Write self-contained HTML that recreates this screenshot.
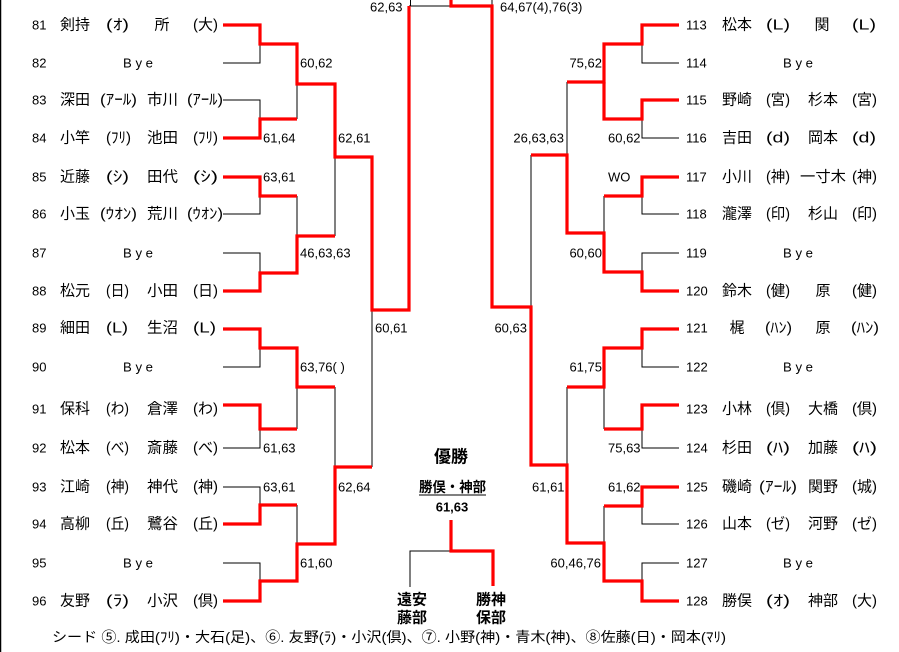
<!DOCTYPE html>
<html><head><meta charset="utf-8">
<style>
html,body{margin:0;padding:0;background:#fff;}
body{width:899px;height:652px;overflow:hidden;position:relative;}
svg{position:absolute;left:0;top:0;}
.n{font-family:"Liberation Sans",sans-serif;font-size:13px;fill:#000;}
.j{font-family:"Liberation Sans","Noto Sans CJK JP",sans-serif;font-size:15px;fill:#000;}
.b{font-family:"Liberation Sans","Noto Sans CJK JP",sans-serif;font-weight:bold;fill:#000;}
</style></head><body>
<svg width="899" height="652" viewBox="0 0 899 652" xmlns="http://www.w3.org/2000/svg">
<rect x="0" y="0" width="899" height="652" fill="#fff"/>
<line x1="0.5" y1="0" x2="0.5" y2="652" stroke="#000" stroke-width="1.5"/>

<!-- black lines -->
<g stroke="#000" stroke-width="1" fill="none">
<!-- left -->
<polyline points="223,63 260,63 260,44"/>
<polyline points="223,100 260,100 260,119"/>
<line x1="297" y1="84" x2="297" y2="119"/>
<polyline points="223,214 260,214 260,196"/>
<line x1="297" y1="196" x2="297" y2="236"/>
<polyline points="223,253 260,253 260,273"/>
<line x1="335" y1="157" x2="335" y2="236"/>
<polyline points="223,367 260,367 260,348"/>
<line x1="297" y1="387" x2="297" y2="429"/>
<polyline points="223,448 260,448 260,429"/>
<line x1="335" y1="387" x2="335" y2="467"/>
<polyline points="223,487 260,487 260,505"/>
<line x1="297" y1="505" x2="297" y2="544"/>
<polyline points="223,563 260,563 260,581"/>
<line x1="372" y1="310" x2="372" y2="467"/>
<line x1="409" y1="6" x2="451" y2="6"/>
<line x1="410.5" y1="0" x2="410.5" y2="6"/>
<line x1="492" y1="0" x2="492" y2="6"/>
<!-- right -->
<polyline points="679,63 642,63 642,44"/>
<polyline points="679,138 642,138 642,119"/>
<line x1="567" y1="82" x2="567" y2="155"/>
<polyline points="679,214 642,214 642,196"/>
<line x1="604" y1="196" x2="604" y2="233"/>
<polyline points="679,253 642,253 642,272"/>
<line x1="531" y1="155" x2="531" y2="307"/>
<polyline points="679,367 642,367 642,348"/>
<line x1="604" y1="387" x2="604" y2="429"/>
<polyline points="679,448 642,448 642,429"/>
<line x1="567" y1="387" x2="567" y2="465"/>
<polyline points="679,524 642,524 642,506"/>
<line x1="604" y1="506" x2="604" y2="543"/>
<polyline points="679,563 642,563 642,581"/>
<!-- center -->
<polyline points="451,551 410,551 410,587"/>
</g>

<!-- red lines -->
<g stroke="#ff0000" stroke-width="3.2" fill="none" stroke-linejoin="miter">
<polyline points="223,25 260,25 260,44 297,44 297,84 335,84 335,157 372,157 372,310 409,310 409,6"/>
<polyline points="223,138 260,138 260,119 297,119"/>
<polyline points="223,177 260,177 260,196 297,196"/>
<polyline points="223,291 260,291 260,273 297,273 297,236 335,236"/>
<polyline points="223,329 260,329 260,348 297,348 297,387 335,387"/>
<polyline points="223,405 260,405 260,429 297,429"/>
<polyline points="223,524 260,524 260,505 297,505"/>
<polyline points="223,601 260,601 260,581 297,581 297,544 335,544 335,467 372,467"/>

<polyline points="451,0 451,6 492,6 492,307 531,307 531,465 567,465 567,543 604,543 604,581 642,581 642,601 679,601"/>
<polyline points="679,25 642,25 642,44 604,44 604,82 567,82"/>
<polyline points="679,100 642,100 642,119 604,119 604,82"/>
<polyline points="679,177 642,177 642,196 604,196"/>
<polyline points="679,291 642,291 642,272 604,272 604,233 567,233 567,155 531,155"/>
<polyline points="679,329 642,329 642,348 604,348 604,387 567,387"/>
<polyline points="679,405 642,405 642,429 604,429"/>
<polyline points="679,487 642,487 642,506 604,506"/>

<polyline points="451,520 451,551 493,551 493,586"/>
</g>

<g dominant-baseline="central">
<!-- left numbers -->
<g class="n">
<text x="32" y="25">81</text>
<text x="32" y="63">82</text>
<text x="32" y="100">83</text>
<text x="32" y="138">84</text>
<text x="32" y="177">85</text>
<text x="32" y="214">86</text>
<text x="32" y="253">87</text>
<text x="32" y="291">88</text>
<text x="32" y="328">89</text>
<text x="32" y="367">90</text>
<text x="32" y="409">91</text>
<text x="32" y="448">92</text>
<text x="32" y="487">93</text>
<text x="32" y="524">94</text>
<text x="32" y="563">95</text>
<text x="32" y="601">96</text>
<text x="123" y="63" textLength="30" lengthAdjust="spacingAndGlyphs">B y e</text>
<text x="123" y="253" textLength="30" lengthAdjust="spacingAndGlyphs">B y e</text>
<text x="123" y="367" textLength="30" lengthAdjust="spacingAndGlyphs">B y e</text>
<text x="123" y="563" textLength="30" lengthAdjust="spacingAndGlyphs">B y e</text>
<!-- right numbers -->
<text x="686" y="25">113</text>
<text x="686" y="63">114</text>
<text x="686" y="100">115</text>
<text x="686" y="138">116</text>
<text x="686" y="177">117</text>
<text x="686" y="214">118</text>
<text x="686" y="253">119</text>
<text x="686" y="291">120</text>
<text x="686" y="328">121</text>
<text x="686" y="367">122</text>
<text x="686" y="409">123</text>
<text x="686" y="448">124</text>
<text x="686" y="487">125</text>
<text x="686" y="524">126</text>
<text x="686" y="563">127</text>
<text x="686" y="601">128</text>
<text x="783" y="63" textLength="30" lengthAdjust="spacingAndGlyphs">B y e</text>
<text x="783" y="253" textLength="30" lengthAdjust="spacingAndGlyphs">B y e</text>
<text x="783" y="367" textLength="30" lengthAdjust="spacingAndGlyphs">B y e</text>
<text x="783" y="563" textLength="30" lengthAdjust="spacingAndGlyphs">B y e</text>

<!-- scores left -->
<text x="370" y="7">62,63</text>
<text x="300" y="63">60,62</text>
<text x="263" y="138">61,64</text>
<text x="338" y="138">62,61</text>
<text x="263" y="177">63,61</text>
<text x="300" y="253">46,63,63</text>
<text x="375" y="328">60,61</text>
<text x="300" y="367">63,76(  )</text>
<text x="263" y="448">61,63</text>
<text x="263" y="487">63,61</text>
<text x="338" y="487">62,64</text>
<text x="300" y="563">61,60</text>
<!-- scores right -->
<text x="500" y="7">64,67(4),76(3)</text>
<text x="602" y="63" text-anchor="end">75,62</text>
<text x="608" y="138">60,62</text>
<text x="564" y="138" text-anchor="end">26,63,63</text>
<text x="608" y="177">WO</text>
<text x="602" y="253" text-anchor="end">60,60</text>
<text x="527" y="328" text-anchor="end">60,63</text>
<text x="602" y="367" text-anchor="end">61,75</text>
<text x="608" y="448">75,63</text>
<text x="532" y="487">61,61</text>
<text x="608" y="487">61,62</text>
<text x="601" y="563" text-anchor="end">60,46,76</text>
</g>

<!-- left names -->
<g class="j">
<text x="60" y="25" textLength="30" lengthAdjust="spacingAndGlyphs">剣持</text>
<text x="106" y="25" textLength="23" lengthAdjust="spacingAndGlyphs">(ｵ)</text>
<text x="162" y="25" text-anchor="middle">所</text>
<text x="193" y="25" textLength="25" lengthAdjust="spacingAndGlyphs">(大)</text>

<text x="60" y="100" textLength="30" lengthAdjust="spacingAndGlyphs">深田</text>
<text x="100" y="100" textLength="37" lengthAdjust="spacingAndGlyphs">(ｱｰﾙ)</text>
<text x="147" y="100" textLength="31" lengthAdjust="spacingAndGlyphs">市川</text>
<text x="187" y="100" textLength="36" lengthAdjust="spacingAndGlyphs">(ｱｰﾙ)</text>

<text x="60" y="138" textLength="30" lengthAdjust="spacingAndGlyphs">小竿</text>
<text x="106" y="138" textLength="25" lengthAdjust="spacingAndGlyphs">(ﾌﾘ)</text>
<text x="147" y="138" textLength="31" lengthAdjust="spacingAndGlyphs">池田</text>
<text x="193" y="138" textLength="25" lengthAdjust="spacingAndGlyphs">(ﾌﾘ)</text>

<text x="60" y="177" textLength="30" lengthAdjust="spacingAndGlyphs">近藤</text>
<text x="106" y="177" textLength="23" lengthAdjust="spacingAndGlyphs">(ｼ)</text>
<text x="147" y="177" textLength="31" lengthAdjust="spacingAndGlyphs">田代</text>
<text x="193" y="177" textLength="25" lengthAdjust="spacingAndGlyphs">(ｼ)</text>

<text x="60" y="214" textLength="30" lengthAdjust="spacingAndGlyphs">小玉</text>
<text x="100" y="214" textLength="37" lengthAdjust="spacingAndGlyphs">(ｳｵﾝ)</text>
<text x="147" y="214" textLength="31" lengthAdjust="spacingAndGlyphs">荒川</text>
<text x="187" y="214" textLength="36" lengthAdjust="spacingAndGlyphs">(ｳｵﾝ)</text>

<text x="60" y="291" textLength="30" lengthAdjust="spacingAndGlyphs">松元</text>
<text x="106" y="291" textLength="23" lengthAdjust="spacingAndGlyphs">(日)</text>
<text x="147" y="291" textLength="31" lengthAdjust="spacingAndGlyphs">小田</text>
<text x="193" y="291" textLength="25" lengthAdjust="spacingAndGlyphs">(日)</text>

<text x="60" y="328" textLength="30" lengthAdjust="spacingAndGlyphs">細田</text>
<text x="106" y="328" textLength="22" lengthAdjust="spacingAndGlyphs">(L)</text>
<text x="147" y="328" textLength="31" lengthAdjust="spacingAndGlyphs">生沼</text>
<text x="193" y="328" textLength="23" lengthAdjust="spacingAndGlyphs">(L)</text>

<text x="60" y="409" textLength="30" lengthAdjust="spacingAndGlyphs">保科</text>
<text x="106" y="409" textLength="23" lengthAdjust="spacingAndGlyphs">(わ)</text>
<text x="147" y="409" textLength="31" lengthAdjust="spacingAndGlyphs">倉澤</text>
<text x="193" y="409" textLength="25" lengthAdjust="spacingAndGlyphs">(わ)</text>

<text x="60" y="448" textLength="30" lengthAdjust="spacingAndGlyphs">松本</text>
<text x="106" y="448" textLength="23" lengthAdjust="spacingAndGlyphs">(べ)</text>
<text x="147" y="448" textLength="31" lengthAdjust="spacingAndGlyphs">斎藤</text>
<text x="193" y="448" textLength="25" lengthAdjust="spacingAndGlyphs">(べ)</text>

<text x="60" y="487" textLength="30" lengthAdjust="spacingAndGlyphs">江崎</text>
<text x="106" y="487" textLength="23" lengthAdjust="spacingAndGlyphs">(神)</text>
<text x="147" y="487" textLength="31" lengthAdjust="spacingAndGlyphs">神代</text>
<text x="193" y="487" textLength="25" lengthAdjust="spacingAndGlyphs">(神)</text>

<text x="60" y="524" textLength="30" lengthAdjust="spacingAndGlyphs">高柳</text>
<text x="106" y="524" textLength="23" lengthAdjust="spacingAndGlyphs">(丘)</text>
<text x="147" y="524" textLength="31" lengthAdjust="spacingAndGlyphs">鷺谷</text>
<text x="193" y="524" textLength="25" lengthAdjust="spacingAndGlyphs">(丘)</text>

<text x="60" y="601" textLength="30" lengthAdjust="spacingAndGlyphs">友野</text>
<text x="106" y="601" textLength="23" lengthAdjust="spacingAndGlyphs">(ﾗ)</text>
<text x="147" y="601" textLength="31" lengthAdjust="spacingAndGlyphs">小沢</text>
<text x="193" y="601" textLength="25" lengthAdjust="spacingAndGlyphs">(倶)</text>

<!-- right names -->
<text x="722" y="25" textLength="30" lengthAdjust="spacingAndGlyphs">松本</text>
<text x="766" y="25" textLength="24" lengthAdjust="spacingAndGlyphs">(L)</text>
<text x="822" y="25" text-anchor="middle">関</text>
<text x="852" y="25" textLength="24" lengthAdjust="spacingAndGlyphs">(L)</text>

<text x="722" y="100" textLength="30" lengthAdjust="spacingAndGlyphs">野崎</text>
<text x="766" y="100" textLength="24" lengthAdjust="spacingAndGlyphs">(宮)</text>
<text x="808" y="100" textLength="30" lengthAdjust="spacingAndGlyphs">杉本</text>
<text x="852" y="100" textLength="25" lengthAdjust="spacingAndGlyphs">(宮)</text>

<text x="722" y="138" textLength="30" lengthAdjust="spacingAndGlyphs">吉田</text>
<text x="766" y="138" textLength="24" lengthAdjust="spacingAndGlyphs">(d)</text>
<text x="808" y="138" textLength="30" lengthAdjust="spacingAndGlyphs">岡本</text>
<text x="852" y="138" textLength="24" lengthAdjust="spacingAndGlyphs">(d)</text>

<text x="722" y="177" textLength="30" lengthAdjust="spacingAndGlyphs">小川</text>
<text x="766" y="177" textLength="24" lengthAdjust="spacingAndGlyphs">(神)</text>
<text x="800" y="177" textLength="46" lengthAdjust="spacingAndGlyphs">一寸木</text>
<text x="852" y="177" textLength="25" lengthAdjust="spacingAndGlyphs">(神)</text>

<text x="722" y="214" textLength="30" lengthAdjust="spacingAndGlyphs">瀧澤</text>
<text x="766" y="214" textLength="24" lengthAdjust="spacingAndGlyphs">(印)</text>
<text x="808" y="214" textLength="30" lengthAdjust="spacingAndGlyphs">杉山</text>
<text x="852" y="214" textLength="25" lengthAdjust="spacingAndGlyphs">(印)</text>

<text x="722" y="291" textLength="30" lengthAdjust="spacingAndGlyphs">鈴木</text>
<text x="766" y="291" textLength="24" lengthAdjust="spacingAndGlyphs">(健)</text>
<text x="823" y="291" text-anchor="middle">原</text>
<text x="852" y="291" textLength="25" lengthAdjust="spacingAndGlyphs">(健)</text>

<text x="737" y="328" text-anchor="middle">梶</text>
<text x="765" y="328" textLength="27" lengthAdjust="spacingAndGlyphs">(ﾊﾝ)</text>
<text x="823" y="328" text-anchor="middle">原</text>
<text x="851" y="328" textLength="28" lengthAdjust="spacingAndGlyphs">(ﾊﾝ)</text>

<text x="722" y="409" textLength="30" lengthAdjust="spacingAndGlyphs">小林</text>
<text x="766" y="409" textLength="24" lengthAdjust="spacingAndGlyphs">(倶)</text>
<text x="808" y="409" textLength="30" lengthAdjust="spacingAndGlyphs">大橋</text>
<text x="852" y="409" textLength="25" lengthAdjust="spacingAndGlyphs">(倶)</text>

<text x="722" y="448" textLength="30" lengthAdjust="spacingAndGlyphs">杉田</text>
<text x="766" y="448" textLength="24" lengthAdjust="spacingAndGlyphs">(ﾊ)</text>
<text x="808" y="448" textLength="30" lengthAdjust="spacingAndGlyphs">加藤</text>
<text x="852" y="448" textLength="25" lengthAdjust="spacingAndGlyphs">(ﾊ)</text>

<text x="722" y="487" textLength="30" lengthAdjust="spacingAndGlyphs">磯崎</text>
<text x="759" y="487" textLength="38" lengthAdjust="spacingAndGlyphs">(ｱｰﾙ)</text>
<text x="808" y="487" textLength="30" lengthAdjust="spacingAndGlyphs">関野</text>
<text x="852" y="487" textLength="25" lengthAdjust="spacingAndGlyphs">(城)</text>

<text x="722" y="524" textLength="30" lengthAdjust="spacingAndGlyphs">山本</text>
<text x="766" y="524" textLength="24" lengthAdjust="spacingAndGlyphs">(ゼ)</text>
<text x="808" y="524" textLength="30" lengthAdjust="spacingAndGlyphs">河野</text>
<text x="852" y="524" textLength="25" lengthAdjust="spacingAndGlyphs">(ゼ)</text>

<text x="722" y="601" textLength="30" lengthAdjust="spacingAndGlyphs">勝俣</text>
<text x="766" y="601" textLength="24" lengthAdjust="spacingAndGlyphs">(ｵ)</text>
<text x="808" y="601" textLength="30" lengthAdjust="spacingAndGlyphs">神部</text>
<text x="852" y="601" textLength="25" lengthAdjust="spacingAndGlyphs">(大)</text>

<!-- footer -->
<text x="52" y="637" font-size="14" textLength="674" lengthAdjust="spacingAndGlyphs">シード ⑤. 成田(ﾌﾘ)・大石(足)、⑥. 友野(ﾗ)・小沢(倶)、⑦. 小野(神)・青木(神)、⑧佐藤(日)・岡本(ﾏﾘ)</text>
</g>

<!-- center -->
<g class="b">
<text x="451" y="457" font-size="17" text-anchor="middle">優勝</text>
<text x="419" y="487" font-size="14" textLength="67" lengthAdjust="spacingAndGlyphs">勝俣・神部</text>
<text x="452" y="507" font-size="13" text-anchor="middle">61,63</text>
<text x="412" y="600" font-size="15" text-anchor="middle">遠安</text>
<text x="412" y="618" font-size="15" text-anchor="middle">藤部</text>
<text x="491" y="600" font-size="15" text-anchor="middle">勝神</text>
<text x="491" y="618" font-size="15" text-anchor="middle">保部</text>
</g>
</g>
<line x1="419" y1="495" x2="486" y2="495" stroke="#000" stroke-width="1"/>
</svg>
</body></html>
